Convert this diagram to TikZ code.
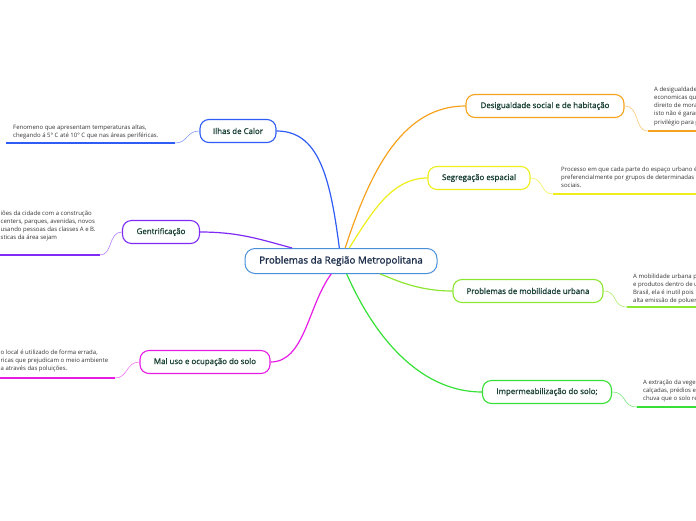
\documentclass[tikz,border=0pt]{standalone}
\usepackage{fontspec}
\setmainfont{Open Sans}
\newfontfamily\rotulo{Open Sans}[FakeBold=1.1]
\usetikzlibrary{positioning}
\definecolor{AzulCentro}{HTML}{4A90D9}
\definecolor{Azul}{HTML}{2F5CF5}
\definecolor{Roxo}{HTML}{7F2BF5}
\definecolor{Magenta}{HTML}{E61CE6}
\definecolor{Laranja}{HTML}{F7A21E}
\definecolor{Amarelo}{HTML}{EEEE1A}
\definecolor{VerdeClaro}{HTML}{8CE632}
\definecolor{Verde}{HTML}{36E036}
\definecolor{TextoTema}{HTML}{1B4237}
\definecolor{TextoCentro}{HTML}{1C2E4A}
\definecolor{TextoNota}{HTML}{333333}

\begin{document}
\begin{tikzpicture}[
  x=1pt,y=-1pt,
  every node/.style={inner sep=0pt},
  tema/.style={draw,fill=white,rounded corners=9pt,line width=1.1pt,
    minimum height=23pt,text=TextoTema,font=\rotulo\fontsize{7.9}{9}\selectfont},
  nota/.style={anchor=north west,align=left,text=TextoNota,
    font=\fontsize{6}{8.2}\selectfont},
  ramo/.style={line width=1.2pt},
  sublinha/.style={line width=1.5pt},
  liga/.style={line width=0.6pt}
]
  \useasboundingbox (0,0) rectangle (696,520);
  \clip (0,0) rectangle (696,520);

  % Tema central e tópicos.
  \node[draw=AzulCentro,fill=white,rounded corners=10pt,line width=1pt,
    minimum width=192pt,minimum height=25pt,text=TextoCentro,
    font=\rotulo\fontsize{9.8}{11}\selectfont] (centro) at (341,261)
    {Problemas da Região Metropolitana};
  \node[tema,draw=Azul,minimum width=76pt] (ilhas) at (238,131) {Ilhas de Calor};
  \node[tema,draw=Roxo,minimum width=77pt] (gentr) at (161,232) {Gentrificação};
  \node[tema,draw=Magenta,minimum width=130pt] (maluso) at (205,362) {Mal uso e ocupação do solo};
  \node[tema,draw=Laranja,minimum width=158pt] (desig) at (545,106) {Desigualdade social e de habitação};
  \node[tema,draw=Amarelo,minimum width=102pt] (segreg) at (479,178) {Segregação espacial};
  \node[tema,draw=VerdeClaro,minimum width=150pt] (mobil) at (528,291) {Problemas de mobilidade urbana};
  \node[tema,draw=Verde,minimum width=129pt] (imperm) at (547,392) {Impermeabilização do solo;};

  % Ramos principais.
  \draw[ramo,Azul] (centro) .. controls (330,175) and (318,131) .. (ilhas.east);
  \draw[ramo,Roxo] (centro) .. controls (262,240) and (240,232) .. (gentr.east);
  \draw[ramo,Magenta] (centro) .. controls (308,305) and (305,362) .. (maluso.east);
  \draw[ramo,Laranja] (centro) .. controls (372,165) and (405,106) .. (desig.west);
  \draw[ramo,Amarelo] (centro) .. controls (372,212) and (392,178) .. (segreg.west);
  \draw[ramo,VerdeClaro] (centro) .. controls (392,278) and (415,291) .. (mobil.west);
  \draw[ramo,Verde] (centro) .. controls (378,345) and (425,392) .. (imperm.west);

  % Notas da esquerda.
  \node[nota] (notaIlhas) at (13,124.5)
    {Fenomeno que apresentam temperaturas altas,\\chegando á 5° C até 10° C que nas áreas periféricas.};
  \coordinate (fimIlhas) at (175,143);
  \draw[sublinha,Azul] (fimIlhas) -- (6,143);
  \draw[liga,Azul!60] (ilhas.west) .. controls (186,131) and (188,143) .. (fimIlhas);

  \node[nota] (notaGentr) at (0.5,210.5)
    {iões da cidade com a construção\\centers, parques, avenidas, novos\\usando pessoas das classes A e B.\\sticas da área sejam};
  \coordinate (fimGentr) at (100,255);
  \draw[sublinha,Roxo] (fimGentr) -- (-2,255);
  \draw[liga,Roxo!60] (gentr.west) .. controls (108,232) and (113,255) .. (fimGentr);

  \node[nota] (notaMaluso) at (0.5,349.5)
    {o local é utilizado de forma errada,\\ricas que prejudicam o meio ambiente\\a através das poluições.};
  \coordinate (fimMaluso) at (115,378);
  \draw[sublinha,Magenta] (fimMaluso) -- (-2,378);
  \draw[liga,Magenta!60] (maluso.west) .. controls (126,362) and (128,378) .. (fimMaluso);

  % Notas da direita.
  \node[nota] (notaDesig) at (654,86.5)
    {A desigualdade\\economicas qu\\direito de mora\\isto não é garan\\privilégio para p};
  \coordinate (iniDesig) at (648,131);
  \draw[sublinha,Laranja] (iniDesig) -- (700,131);
  \draw[liga,Laranja!60] (desig.east) .. controls (640,106) and (634,131) .. (iniDesig);

  \node[nota] (notaSegreg) at (561,166.5)
    {Processo em que cada parte do espaço urbano é\\preferencialmente por grupos de determinadas c\\sociais.};
  \coordinate (iniSegreg) at (553,194);
  \draw[sublinha,Amarelo] (iniSegreg) -- (700,194);
  \draw[liga,Amarelo!70] (segreg.east) .. controls (544,178) and (540,194) .. (iniSegreg);

  \node[nota] (notaMobil) at (633,273.5)
    {A mobilidade urbana p\\e produtos dentro de u\\Brasil, ela é inutil pois\\alta emissão de poluer};
  \coordinate (iniMobil) at (627,307);
  \draw[sublinha,VerdeClaro] (iniMobil) -- (700,307);
  \draw[liga,VerdeClaro!70] (mobil.east) .. controls (618,291) and (612,307) .. (iniMobil);

  \node[nota] (notaImperm) at (643,379.5)
    {A extração da vege\\calçadas, prédios e\\chuva que o solo re};
  \coordinate (iniImperm) at (637,407);
  \draw[sublinha,Verde] (iniImperm) -- (700,407);
  \draw[liga,Verde!70] (imperm.east) .. controls (627,392) and (622,407) .. (iniImperm);
\end{tikzpicture}
\end{document}
